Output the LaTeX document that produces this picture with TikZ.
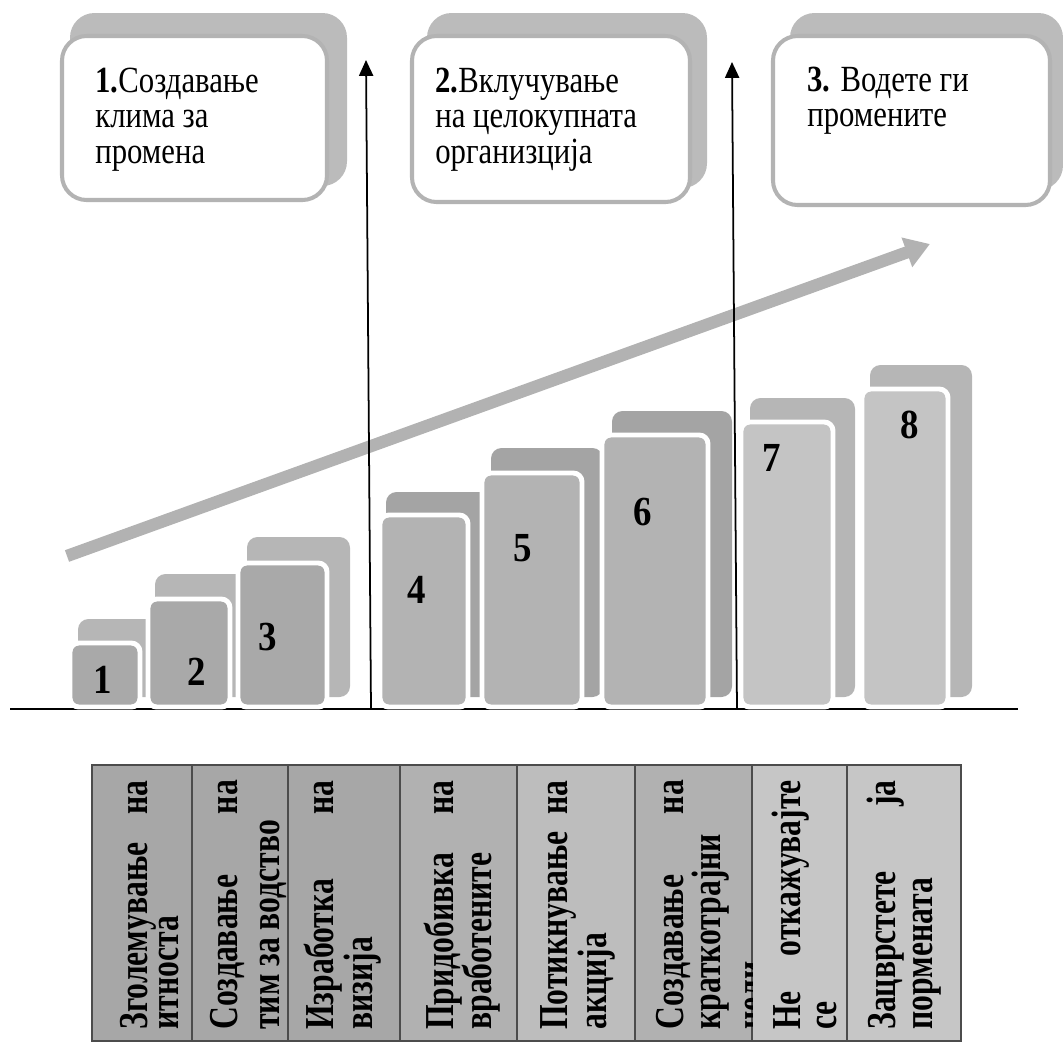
\documentclass[tikz,border=0pt]{standalone}
\usepackage{fontspec}
\setmainfont{Liberation Serif}
\usepackage{graphicx}
\usepackage{xcolor}
\usepackage{tikz}
\usetikzlibrary{arrows.meta}
\definecolor{kastenrand}{HTML}{B3B3B3}
\definecolor{kastengrau}{HTML}{BBBBBB}
\definecolor{balkendunkel}{HTML}{A9A9A9}
\definecolor{balkenmittel}{HTML}{B3B3B3}
\definecolor{balkenhell}{HTML}{C4C4C4}
\definecolor{schattenhell}{HTML}{B6B6B6}
\definecolor{schattendunkel}{HTML}{A4A4A4}
\definecolor{pfeilgrau}{HTML}{B2B2B2}
\definecolor{spaltedunkel}{HTML}{A7A7A7}
\definecolor{spaltemittel}{HTML}{B1B1B1}
\definecolor{spaltehell}{HTML}{C6C6C6}

\begin{document}
\begin{tikzpicture}[x=0.02cm, y=-0.02cm,
    kasten/.style={draw=kastenrand, line width=2.3pt, fill=white, rounded corners=14pt},
    kastenschatten/.style={fill=kastengrau, rounded corners=14pt},
    kastentext/.style={anchor=base west, inner sep=0pt},
    balken/.style={draw=white, line width=2.8pt, rounded corners=5pt},
    balkenschatten/.style={rounded corners=6pt},
    ziffer/.style={font=\bfseries\fontsize{21}{21}\selectfont, inner sep=0pt},
    zelle/.style={draw=black!70, line width=0.6pt},
    zellentext/.style={anchor=base west, inner sep=0pt, rotate=90},
    achse/.style={line width=0.9pt},
    pfeil/.style={line width=1pt, -{Triangle[length=9pt, width=8pt]}}
]
  \useasboundingbox (0,0) rectangle (1063,1046);

  % Drei Phasen oben
  \fill[kastenschatten] (70,13) rectangle (347,186);
  \draw[kasten] (62,36) rectangle (327,200);
  \node[kastentext] (phase1) at (95,92) {\scalebox{1}[1.2]{\parbox[t]{8cm}{\fontsize{17.5}{17}\selectfont
    \textbf{1.}Создавање\\клима за\\промена}}};

  \fill[kastenschatten] (427,13) rectangle (707,188);
  \draw[kasten] (412,36) rectangle (690,202);
  \node[kastentext] (phase2) at (435,92) {\scalebox{1}[1.2]{\parbox[t]{8cm}{\fontsize{17.5}{17}\selectfont
    \textbf{2.}Вклучување\\на целокупната\\организција}}};

  \fill[kastenschatten] (790,13) rectangle (1063,190);
  \draw[kasten] (773,36) rectangle (1050,205);
  \node[kastentext] (phase3) at (807,91) {\scalebox{1}[1.2]{\parbox[t]{8cm}{\fontsize{17.5}{17}\selectfont
    \textbf{3.} Водете ги\\промените}}};

  % Grundlinie
  \draw[achse] (10,709) -- (1018,709);

  % Stufen 1-3
  \fill[balkenschatten, schattenhell] (78,619) rectangle (163,697);
  \filldraw[balken, fill=balkendunkel] (70,643) rectangle (140,707);
  \fill[balkenschatten, schattenhell] (155,574) rectangle (253,697);
  \filldraw[balken, fill=balkendunkel] (148,599) rectangle (230,707);
  \fill[balkenschatten, schattenhell] (247,537) rectangle (350,697);
  \filldraw[balken, fill=balkendunkel] (238,563) rectangle (327,707);

  % Stufen 4-6
  \fill[balkenschatten, schattendunkel] (386,492) rectangle (491,697);
  \filldraw[balken, fill=balkenmittel] (380,515) rectangle (468,707);
  \fill[balkenschatten, schattendunkel] (491,448) rectangle (603,697);
  \filldraw[balken, fill=balkenmittel] (482,473) rectangle (582,707);
  \fill[balkenschatten, schattendunkel] (612,411) rectangle (732,697);
  \filldraw[balken, fill=balkenmittel] (602,435) rectangle (708,707);

  % Stufen 7-8
  \fill[balkenschatten, schattenhell] (750,398) rectangle (855,697);
  \filldraw[balken, fill=balkenhell] (741,422) rectangle (833,707);
  \fill[balkenschatten, schattenhell] (870,365) rectangle (972,697);
  \filldraw[balken, fill=balkenhell] (862,389) rectangle (948,707);

  % Nummern
  \node[ziffer] (n1) at (103,680) {\scalebox{1}[1.12]{1}};
  \node[ziffer] (n2) at (197,672) {\scalebox{1}[1.12]{2}};
  \node[ziffer] (n3) at (268,637) {\scalebox{1}[1.12]{3}};
  \node[ziffer] (n4) at (417,590) {\scalebox{1}[1.12]{4}};
  \node[ziffer] (n5) at (523,548) {\scalebox{1}[1.12]{5}};
  \node[ziffer] (n6) at (643,512) {\scalebox{1}[1.12]{6}};
  \node[ziffer] (n7) at (772,458) {\scalebox{1}[1.12]{7}};
  \node[ziffer] (n8) at (910,425) {\scalebox{1}[1.12]{8}};

  % Schraeger Pfeil
  \coordinate (start) at (67,556);
  \coordinate (ende) at (930,244);
  \draw[pfeilgrau, line width=7pt, -{Triangle[length=14pt, width=17pt]}] (start) -- (ende);

  % Senkrechte Pfeile
  \coordinate (fuss1) at (371,709);
  \coordinate (spitze1) at (366,60);
  \coordinate (fuss2) at (737,709);
  \coordinate (spitze2) at (732,62);
  \draw[pfeil] (fuss1) -- (spitze1);
  \draw[pfeil] (fuss2) -- (spitze2);

  % Tabelle mit den acht Schritten
  \filldraw[zelle, fill=spaltedunkel] (92,765) rectangle (192,1041);
  \filldraw[zelle, fill=spaltedunkel] (192,765) rectangle (288,1041);
  \filldraw[zelle, fill=spaltedunkel] (288,765) rectangle (400,1041);
  \filldraw[zelle, fill=spaltemittel] (400,765) rectangle (517,1041);
  \filldraw[zelle, fill=spaltemittel!85!white] (517,765) rectangle (635,1041);
  \filldraw[zelle, fill=spaltemittel] (635,765) rectangle (752,1041);
  \filldraw[zelle, fill=spaltehell] (752,765) rectangle (847,1041);
  \filldraw[zelle, fill=spaltehell] (847,765) rectangle (961,1041);

  \node[zellentext] (s1) at (147,1030) {\scalebox{1}[1.3]{\parbox[t]{142pt}{\bfseries\fontsize{18}{14.4}\selectfont
    Зголемување\hfill на\\[-0.5pt]итноста}}};
  \node[zellentext] (s2) at (237,1030) {\scalebox{1}[1.3]{\parbox[t]{142pt}{\bfseries\fontsize{18}{14.4}\selectfont
    Создавање\hfill на\\[4pt]тим за водство}}};
  \node[zellentext] (s3) at (333,1030) {\scalebox{1}[1.3]{\parbox[t]{142pt}{\bfseries\fontsize{18}{14.4}\selectfont
    Изработка\hfill на\\визија}}};
  \node[zellentext] (s4) at (453,1030) {\scalebox{1}[1.3]{\parbox[t]{142pt}{\bfseries\fontsize{18}{14.4}\selectfont
    Придобивка\hfill на\\[-1pt]вработените}}};
  \node[zellentext] (s5) at (567,1030) {\scalebox{1}[1.3]{\parbox[t]{142pt}{\bfseries\fontsize{18}{14.4}\selectfont
    Потикнување\hfill на\\акција}}};
  \begin{scope}
    \clip (635,765) rectangle (752,1041);
    \node[zellentext] (s6) at (683,1030) {\scalebox{1}[1.3]{\parbox[t]{142pt}{\bfseries\fontsize{18}{14.4}\selectfont
      Создавање\hfill на\\краткотрајни\\[4.5pt]цели}}};
  \end{scope}
  \node[zellentext] (s7) at (800,1030) {\scalebox{1}[1.3]{\parbox[t]{142pt}{\bfseries\fontsize{18}{14.4}\selectfont
    Не\hfill откажувајте\\[1.6pt]се}}};
  \node[zellentext] (s8) at (895,1030) {\scalebox{1}[1.3]{\parbox[t]{142pt}{\bfseries\fontsize{18}{14.4}\selectfont
    Зацврстете\hfill ја\\[2pt]пормената}}};

\end{tikzpicture}
\end{document}
